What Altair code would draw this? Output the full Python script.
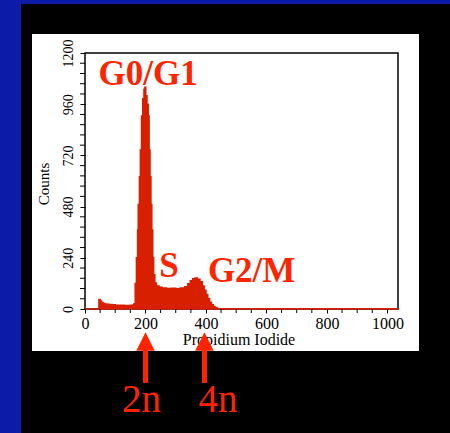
import altair as alt
import pandas as pd

# ---- data ----
hist_channel = [0, 46, 50, 54, 58, 62, 66, 72, 80, 90,
                100, 110, 120, 130, 140, 150, 158, 162, 166, 170,
                174, 176, 180, 183, 187, 191, 195, 198, 201, 205,
                209, 212, 215, 218, 221, 224, 227, 231, 236, 245,
                255, 270, 285, 300, 315, 330, 340, 348, 356, 364,
                372, 380, 388, 394, 400, 406, 412, 418, 424, 430,
                436, 442, 1035]
hist_count = [0, 44, 38, 32, 28, 25, 23, 22, 21, 20,
              18, 17, 17, 16, 16, 17, 19, 25, 120, 240,
              370, 490, 620, 745, 905, 985, 1030, 1040, 1000, 960,
              905, 745, 620, 490, 370, 240, 160, 122, 108, 102,
              98, 96, 97, 95, 98, 104, 118, 132, 142, 145,
              140, 128, 108, 88, 68, 48, 32, 20, 12, 6,
              2, 1, 0]

x_major = [0, 200, 400, 600, 800, 1000]
x_minor = [50, 100, 150, 250, 300, 350, 450, 500, 550, 650, 700, 750,
           850, 900, 950]
y_major = [0, 240, 480, 720, 960, 1200]
y_minor = [48, 96, 144, 192, 288, 336, 384, 432, 528, 576, 624, 672,
           768, 816, 864, 912, 1008, 1056, 1104, 1152]

phase_labels = ["G0/G1", "S", "G2/M"]
phase_x = [209, 278, 551]
phase_y = [1050, 150, 127]

ploidy_labels = ["2n", "4n"]
ploidy_label_x = [187, 440]
ploidy_arrow_x = [200, 395]

W, H = 313, 256
RED_TEXT = "#ff2400"
RED_FILL = "#d81f00"
SERIF = "'Liberation Serif', 'Times New Roman', Times, serif"

xscale = alt.Scale(domain=[0, 1035], nice=False, zero=False)
yscale = alt.Scale(domain=[0, 1200], nice=False)

one = pd.DataFrame({"k": [0]})
hist = pd.DataFrame({"pi": hist_channel, "count": hist_count})
phases = pd.DataFrame({"label": phase_labels, "x": phase_x, "y": phase_y})
ploidy = pd.DataFrame({"label": ploidy_labels, "lx": ploidy_label_x, "ax": ploidy_arrow_x})
xminor_df = pd.DataFrame({"t": x_minor})
yminor_df = pd.DataFrame({"t": y_minor})

black_bg = alt.Chart(one).mark_rect(color="black").encode(
    x=alt.value(-64), x2=alt.value(365), y=alt.value(-49), y2=alt.value(380))
white_bg = alt.Chart(one).mark_rect(color="white").encode(
    x=alt.value(-53), x2=alt.value(334), y=alt.value(-19), y2=alt.value(298))
frame = alt.Chart(one).mark_rect(fillOpacity=0, stroke="black", strokeWidth=1.5).encode(
    x=alt.value(0), x2=alt.value(W), y=alt.value(0), y2=alt.value(H))

area = alt.Chart(hist).mark_area(
    interpolate="step-after", color=RED_FILL, stroke=RED_FILL, strokeWidth=1.5
).encode(
    x=alt.X("pi:Q", scale=xscale, axis=alt.Axis(
        values=x_major, title=None, grid=False, domain=False, tickSize=4,
        tickColor="black", labelFont=SERIF, labelFontSize=16, labelColor="black",
        labelPadding=2, labelOverlap=False, labelFlush=False, zindex=1, format="d")),
    y=alt.Y("count:Q", scale=yscale, axis=alt.Axis(
        values=y_major, title=None, grid=False, domain=False, tickSize=5,
        tickColor="black", labelFont=SERIF, labelFontSize=14, labelColor="black",
        labelAngle=270, labelPadding=5, labelOverlap=False, labelFlush=False,
        zindex=1, format="d")),
)

xminor = alt.Chart(xminor_df).mark_rule(color="black", strokeWidth=1).encode(
    x=alt.X("t:Q", scale=xscale), y=alt.value(H), y2=alt.value(H + 4))
yminor = alt.Chart(yminor_df).mark_rule(color="black", strokeWidth=1).encode(
    y=alt.Y("t:Q", scale=yscale), x=alt.value(-5), x2=alt.value(0))

counts_title = alt.Chart(one).mark_text(
    text="Counts", font=SERIF, fontSize=15, angle=270, color="black",
    align="center", baseline="middle"
).encode(x=alt.value(-41), y=alt.value(131))

x_title = alt.Chart(one).mark_text(
    text="Propidium Iodide", font=SERIF, fontSize=16, color="black",
    align="center", baseline="alphabetic"
).encode(x=alt.value(154), y=alt.value(292))

phase_text = alt.Chart(phases).mark_text(
    font=SERIF, fontSize=35, fontWeight="bold", color=RED_TEXT,
    align="center", baseline="alphabetic"
).encode(x=alt.X("x:Q", scale=xscale), y=alt.Y("y:Q", scale=yscale), text="label:N")

shafts = alt.Chart(ploidy).mark_rule(color=RED_TEXT, strokeWidth=5).encode(
    x=alt.X("ax:Q", scale=xscale), y=alt.value(295), y2=alt.value(330))
heads = alt.Chart(ploidy).mark_point(
    shape="M-1,1L0,-1L1,1Z", filled=True, opacity=1, color=RED_TEXT, size=340
).encode(x=alt.X("ax:Q", scale=xscale), y=alt.value(288.5))
ploidy_text = alt.Chart(ploidy).mark_text(
    font=SERIF, fontSize=39, color=RED_TEXT, align="center", baseline="alphabetic"
).encode(x=alt.X("lx:Q", scale=xscale), y=alt.value(359), text="label:N")

chart = alt.layer(
    black_bg, white_bg, frame, area, xminor, yminor, counts_title, x_title,
    phase_text, shafts, heads, ploidy_text
).properties(
    width=W, height=H,
    autosize=alt.AutoSizeParams(type="none"),
    padding={"left": 85, "top": 53, "right": 52, "bottom": 124},
    background="#0c1ca8",
).configure_view(stroke=None)

chart.save("out.html", embed_options={"renderer": "svg", "actions": False})
